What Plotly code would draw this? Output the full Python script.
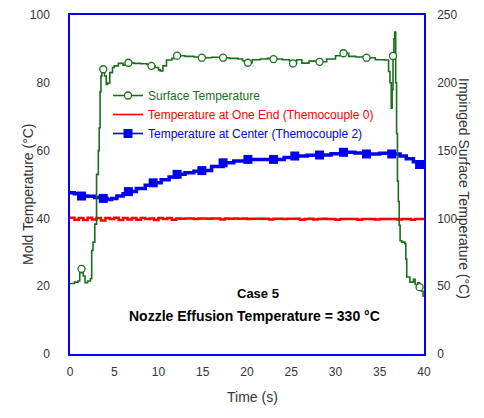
import plotly.graph_objects as go

# ---------------- data ----------------
# Surface temperature (right axis, °C) - dense line
surf_x = [0, 0.5, 0.9, 1.1, 1.3, 1.5, 1.7, 2.0, 2.3, 2.45, 2.6, 2.8, 3.0, 3.2, 3.3, 3.4, 3.5, 3.6,
          3.76, 3.9, 4.1, 4.26, 4.5, 4.8, 5.0, 5.46, 6.0, 6.6, 7.2, 8.0, 8.7, 9.2, 9.6, 10.0, 10.2,
          10.5, 10.9, 11.5, 12.1, 13, 14, 14.9, 16, 17, 17.3, 18, 19, 19.5, 20.1, 20.6, 21.5, 22.3,
          23, 24, 24.8, 25.0, 25.2, 25.6, 26.2, 27, 28.2, 29, 30.0, 30.9, 31.5, 32.3, 33.5, 34.5,
          35.5, 35.8, 36.0, 36.15, 36.3, 36.4, 36.5, 36.6, 36.7, 36.8, 36.9, 37.0, 37.1, 37.2, 37.3,
          37.5, 37.85, 37.95, 38.05, 38.4, 38.8, 39.0, 39.3, 39.5, 39.7, 39.9]
surf_y = [52.0, 53.0, 53.8, 60.0, 62.8, 57.5, 52.5, 53.8, 55.5, 76.3, 82.5, 95.8, 132.5, 150.0, 166.8,
          193.5, 205.0, 211.8, 210.0, 205.0, 198.8, 199.8, 207.5, 211.3, 212.5, 214.3, 213.0, 214.8,
          214.3, 214.0, 213.5, 212.5, 211.3, 209.5, 208.8, 212.5, 216.8, 218.0, 220.0, 219.5, 219.0,
          218.5, 218.8, 219.8, 218.5, 218.0, 217.5, 216.3, 214.8, 217.0, 217.5, 218.0, 217.5, 217.0,
          216.3, 212.0, 214.3, 217.0, 214.5, 216.0, 215.5, 217.5, 220.0, 221.8, 219.5, 219.0, 218.5,
          217.0, 216.8, 216.8, 208.3, 200.0, 181.3, 195.0, 219.8, 232.5, 237.5, 200.0, 162.5, 127.5,
          112.5, 95.0, 83.5, 82.5, 81.3, 70.0, 56.8, 53.0, 55.0, 51.3, 52.5, 49.3, 46.3, 42.0]
# Surface temperature marker points
surf_mx = [1.3, 3.76, 6.6, 9.2, 12.1, 14.9, 17.3, 20.1, 23, 25.2, 28.2, 30.9, 33.5, 36.5, 39.5]
surf_my = [62.8, 210.0, 214.8, 212.5, 220.0, 218.5, 218.5, 214.8, 217.5, 214.3, 215.5, 221.8, 218.5,
           219.8, 49.3]

# Temperature at one end (Thermocouple 0), left axis
end_x = [i * 0.5 for i in range(81)]
end_y = [40.2, 39.6, 40.1, 39.5, 40.2, 39.7, 40.1, 39.4, 40.1, 39.8, 40.2, 39.5, 40.1, 39.7, 40.1,
         39.6, 40.1, 39.8, 40.0, 39.5, 40.1, 39.8, 40.1, 39.6, 40.0, 39.9, 40.0, 40.0, 39.8, 40.0,
         40.0, 39.9, 40.0, 40.0, 39.7, 40.0, 39.9, 40.0, 39.9, 40.0, 39.8, 39.9, 39.9, 39.9, 39.9,
         39.7, 39.9, 39.9, 39.8, 39.9, 39.9, 39.9, 39.6, 39.8, 39.9, 39.7, 39.8, 39.9, 39.8, 39.8,
         39.6, 39.8, 39.8, 39.8, 39.8, 39.6, 39.8, 39.8, 39.8, 39.7, 39.8, 39.8, 39.8, 39.8, 39.7,
         39.8, 39.8, 39.6, 39.8, 39.8, 39.7]

# Temperature at center (Thermocouple 2), left axis
cen_x = [0, 0.5, 1.3, 2.0, 2.8, 3.76, 4.2, 4.7, 5.3, 6.0, 6.6, 7.5, 8.5, 9.4, 10.3, 11.2, 12.1, 13.0,
         14.0, 14.9, 16.0, 17.3, 18.5, 20.1, 21.5, 23, 24.2, 25.4, 26.8, 28.2, 29.5, 30.9, 32.2, 33.5,
         35.0, 36.35, 37.3, 38.0, 38.8, 39.5, 39.9]
cen_y = [47.6, 47.3, 46.6, 46.5, 46.2, 45.9, 45.6, 45.9, 46.6, 47.3, 47.9, 48.8, 49.8, 50.5, 51.4,
         52.2, 53.0, 53.5, 53.9, 54.1, 55.3, 56.4, 56.9, 57.4, 57.4, 57.4, 58.0, 58.4, 58.6, 58.7,
         59.1, 59.5, 59.3, 59.0, 59.2, 59.0, 58.4, 57.6, 56.7, 55.9, 55.4]
cen_mx = [1.3, 3.76, 6.6, 9.4, 12.1, 14.9, 17.3, 20.1, 23, 25.4, 28.2, 30.9, 33.5, 36.35, 39.5]
cen_my = [46.6, 45.9, 47.9, 50.5, 53.0, 54.1, 56.4, 57.4, 57.4, 58.4, 58.7, 59.5, 59.0, 59.0, 55.9]

x_ticks = [0, 5, 10, 15, 20, 25, 30, 35, 40]
y_ticks = [0, 20, 40, 60, 80, 100]
y2_ticks = [0, 50, 100, 150, 200, 250]

GREEN = "#1b6e1b"
RED = "#ff0000"
BLUE = "#0000ee"
FONT = "Arial, Liberation Sans, sans-serif"

fig = go.Figure()

# green surface temperature (right axis)
fig.add_trace(go.Scatter(x=surf_x, y=surf_y, yaxis="y2", mode="lines",
                         line=dict(color=GREEN, width=1.6, shape="hv"), showlegend=False,
                         hoverinfo="skip"))
fig.add_trace(go.Scatter(x=surf_mx, y=surf_my, yaxis="y2", mode="markers",
                         marker=dict(symbol="circle", size=7, color="white",
                                     line=dict(color=GREEN, width=1.3)), showlegend=False))
# red
fig.add_trace(go.Scatter(x=end_x, y=end_y, mode="lines", line=dict(color=RED, width=2.5, shape="hv"),
                         showlegend=False))
# blue
fig.add_trace(go.Scatter(x=cen_x, y=cen_y, mode="lines", line=dict(color=BLUE, width=3.5, shape="hv"),
                         showlegend=False))
fig.add_trace(go.Scatter(x=cen_mx, y=cen_my, mode="markers",
                         marker=dict(symbol="square", size=9, color=BLUE), showlegend=False))

# legend entries
fig.add_trace(go.Scatter(x=[None], y=[None], mode="lines+markers",
                         name=f"<span style='color:{GREEN}'>Surface Temperature</span>",
                         line=dict(color=GREEN, width=1.6),
                         marker=dict(symbol="circle", size=7, color="white",
                                     line=dict(color=GREEN, width=1.3))))
fig.add_trace(go.Scatter(x=[None], y=[None], mode="lines",
                         name=f"<span style='color:{RED}'>Temperature at One End (Themocouple 0)</span>",
                         line=dict(color=RED, width=1.6)))
fig.add_trace(go.Scatter(x=[None], y=[None], mode="lines+markers",
                         name=f"<span style='color:{BLUE}'>Temperature at Center (Themocouple 2)</span>",
                         line=dict(color=BLUE, width=1.6),
                         marker=dict(symbol="square", size=9, color=BLUE)))

# the page body adds an 8px offset; work in screen pixels and convert
OFF = 8
W, H = 476, 410
PLOT_TOP = 15
L, T = 70 - OFF, PLOT_TOP - OFF
R = W - (424 - OFF)
B = H - (354 - OFF)
pw, ph = W - L - R, H - T - B


def px(sx):
    return (sx - OFF - L) / pw


def py(sy):
    return (H - B - (sy - OFF)) / ph


axis_common = dict(showgrid=False, zeroline=False, ticks="", color="#333333", automargin=False,
                   ticklabeloverflow="allow",
                   tickfont=dict(family=FONT, size=12, color="#333333"))

fig.update_layout(
    width=W, height=H,
    margin=dict(l=L, r=R, t=T, b=B, autoexpand=False),
    paper_bgcolor="white", plot_bgcolor="white",
    font=dict(family=FONT, size=12, color="#333333"),
    xaxis=dict(range=[0, 40], tickvals=x_ticks, showline=True, linecolor="#0000ff", linewidth=1.5,
               mirror=True, ticklabelstandoff=6, **axis_common),
    yaxis=dict(range=[0, 100], tickvals=y_ticks, showline=True, linecolor="#0000ff", linewidth=1.5,
               ticklabelstandoff=16, **axis_common),
    yaxis2=dict(range=[0, 250], tickvals=y2_ticks, overlaying="y", side="right", showline=True,
                linecolor="#0000ff", linewidth=1.5, ticklabelstandoff=9, **axis_common),
    legend=dict(x=px(108), y=py(81), xanchor="left", yanchor="top", bgcolor="rgba(0,0,0,0)",
                font=dict(family=FONT, size=12), tracegroupgap=0, itemwidth=30),
    annotations=[
        dict(text="Mold Temperature (°C)", textangle=-90, x=px(18), y=py(194), xref="paper",
             yref="paper", showarrow=False, font=dict(family=FONT, size=14, color="#333333")),
        dict(text="Impinged Surface Temperature (°C)", textangle=90, x=px(474), y=py(188),
             xref="paper", yref="paper", showarrow=False,
             font=dict(family=FONT, size=14, color="#333333")),
        dict(text="Time (s)", x=px(252), y=py(407), xref="paper", yref="paper", showarrow=False,
             font=dict(family=FONT, size=14, color="#333333")),
        dict(text="<b>Case 5</b>", x=px(258), y=py(303), xref="paper", yref="paper",
             showarrow=False, font=dict(family=FONT, size=13, color="black")),
        dict(text="<b>Nozzle Effusion Temperature = 330 °C</b>", x=px(254), y=py(326),
             xref="paper", yref="paper", showarrow=False,
             font=dict(family=FONT, size=14, color="black")),
    ],
)

fig.write_html("out.html")
